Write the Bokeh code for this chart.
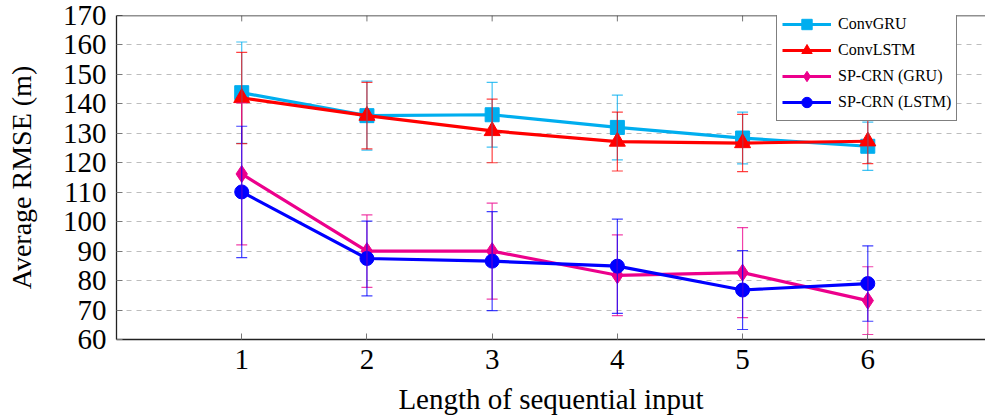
from bokeh.plotting import figure
from bokeh.models import (Range1d, FixedTicker, Span, Legend, LegendItem,
                          Whisker, TeeHead, ColumnDataSource)
from bokeh.embed import file_html
from bokeh.resources import INLINE

# ---- data ----
seq_len = [1, 2, 3, 4, 5, 6]
y_ticks = [60, 70, 80, 90, 100, 110, 120, 130, 140, 150, 160, 170]

convgru_mean = [143.8, 136.0, 136.3, 132.0, 128.4, 125.6]
convgru_err = [17.2, 11.7, 11.0, 11.0, 8.8, 8.2]

convlstm_mean = [142.0, 136.0, 130.8, 127.2, 126.7, 127.3]
convlstm_err = [15.5, 11.3, 10.8, 10.0, 9.7, 7.6]

spcrn_gru_mean = [116.2, 90.0, 90.0, 81.8, 82.7, 73.2]
spcrn_gru_err = [24.1, 12.3, 16.3, 13.7, 15.3, 11.5]

spcrn_lstm_mean = [110.1, 87.5, 86.6, 84.9, 76.8, 79.0]
spcrn_lstm_err = [22.3, 12.7, 16.8, 16.0, 13.4, 12.8]

series = [
    ("ConvGRU", convgru_mean, convgru_err, "#00AEEF", "square", 14),
    ("ConvLSTM", convlstm_mean, convlstm_err, "#FF0000", "triangle", 16),
    ("SP-CRN (GRU)", spcrn_gru_mean, spcrn_gru_err, "#EC008C", "diamond", 17),
    ("SP-CRN (LSTM)", spcrn_lstm_mean, spcrn_lstm_err, "#0000FF", "circle", 14),
]

FONT = "Liberation Serif"

p = figure(width=985, height=418, output_backend="svg", toolbar_location=None,
           x_range=Range1d(0, 6.94), y_range=Range1d(60, 170),
           min_border_left=116, min_border_top=15, min_border_right=0,
           min_border_bottom=79)
p.outline_line_color = None
p.background_fill_color = "white"

# grid
p.xgrid.grid_line_color = None
p.ygrid.ticker = FixedTicker(ticks=y_ticks[1:-1])
p.ygrid.grid_line_color = "#bdbdbd"
p.ygrid.grid_line_dash = "5 5"
p.ygrid.grid_line_width = 1

# axes
p.xaxis.ticker = FixedTicker(ticks=seq_len)
p.yaxis.ticker = FixedTicker(ticks=y_ticks)
for ax in (p.xaxis[0], p.yaxis[0]):
    ax.major_label_text_font = FONT
    ax.major_label_text_font_size = "29px"
    ax.major_label_text_color = "black"
    ax.axis_label_text_font = FONT
    ax.axis_label_text_font_style = "normal"
    ax.axis_label_text_color = "black"
    ax.axis_line_color = "#222222"
    ax.axis_line_width = 1.3
    ax.major_tick_in = 6
    ax.major_tick_out = 0
    ax.major_tick_line_color = "#777777"
    ax.minor_tick_line_color = None
p.xaxis.axis_label = "Length of sequential input"
p.xaxis.axis_label_text_font_size = "29px"
p.xaxis.major_label_standoff = 10
p.xaxis.axis_label_standoff = 11
p.yaxis.axis_label = "Average RMSE (m)"
p.yaxis.axis_label_text_font_size = "28px"
p.yaxis.major_label_standoff = 10
p.yaxis.axis_label_standoff = 23

# top border and top ticks
p.add_layout(Span(location=y_ticks[-1], dimension="width",
                  line_color="#222222", line_width=1.3))
p.segment(x0=seq_len, y0=[y_ticks[-1]] * len(seq_len), x1=seq_len,
          y1=[y_ticks[-1] - 2.0] * len(seq_len), line_color="#777777",
          line_width=1)

items = []
for name, mean, err, color, marker, size in series:
    src = ColumnDataSource(dict(
        x=seq_len, y=mean,
        up=[m + e for m, e in zip(mean, err)],
        lo=[m - e for m, e in zip(mean, err)]))
    w = Whisker(base="x", upper="up", lower="lo", source=src,
                dimension="height", line_color=color, line_alpha=0.75,
                line_width=1.2, level="glyph",
                upper_head=TeeHead(size=11, line_color=color, line_alpha=0.75,
                                   line_width=1.2),
                lower_head=TeeHead(size=11, line_color=color, line_alpha=0.75,
                                   line_width=1.2))
    p.add_layout(w)
    ln = p.line("x", "y", source=src, line_color=color, line_width=3.2)
    sc = p.scatter("x", "y", source=src, marker=marker, size=size,
                   fill_color=color, line_color=color)
    items.append(LegendItem(label=name, renderers=[ln, sc]))

legend = Legend(items=items, location=(660, 218))
legend.label_text_font = FONT
legend.label_text_font_size = "16px"
legend.label_text_color = "black"
legend.glyph_width = 49
legend.glyph_height = 26
legend.spacing = 0
legend.padding = 5
legend.margin = 0
legend.label_standoff = 7
legend.border_line_color = "black"
legend.border_line_width = 1.2
legend.background_fill_color = "white"
legend.background_fill_alpha = 1.0
p.add_layout(legend)

open("out.html", "w").write(file_html(p, INLINE))
